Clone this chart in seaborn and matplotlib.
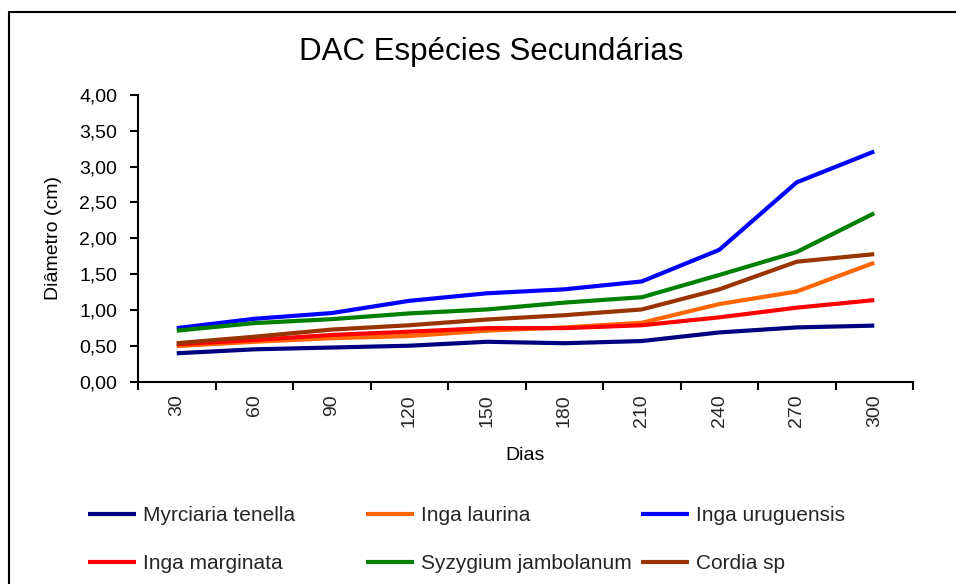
import matplotlib
matplotlib.use("Agg")
import matplotlib.pyplot as plt
import pandas as pd
import seaborn as sns
from matplotlib.lines import Line2D
from matplotlib.ticker import FuncFormatter, FixedLocator

dias = [30, 60, 90, 120, 150, 180, 210, 240, 270, 300]

myrciaria_tenella = [0.40, 0.455, 0.48, 0.505, 0.56, 0.54, 0.57, 0.69, 0.76, 0.785]
inga_laurina = [0.50, 0.56, 0.61, 0.64, 0.715, 0.76, 0.825, 1.085, 1.26, 1.66]
inga_uruguensis = [0.75, 0.88, 0.96, 1.13, 1.235, 1.29, 1.40, 1.84, 2.78, 3.21]
inga_marginata = [0.525, 0.585, 0.655, 0.70, 0.75, 0.75, 0.79, 0.90, 1.035, 1.14]
syzygium_jambolanum = [0.715, 0.82, 0.875, 0.955, 1.01, 1.105, 1.18, 1.49, 1.81, 2.35]
cordia_sp = [0.54, 0.63, 0.73, 0.79, 0.87, 0.93, 1.01, 1.29, 1.675, 1.78]

especies = ["Myrciaria tenella", "Inga laurina", "Inga uruguensis",
            "Inga marginata", "Syzygium jambolanum", "Cordia sp"]
series = [myrciaria_tenella, inga_laurina, inga_uruguensis,
          inga_marginata, syzygium_jambolanum, cordia_sp]
cores = ["#000080", "#FF6600", "#0000FF", "#FF0000", "#008000", "#993300"]

df = pd.concat([pd.DataFrame({"dias": dias, "diametro": vals, "especie": nome})
                for nome, vals in zip(especies, series)])

sns.set_theme(style="white")
plt.rcParams["font.family"] = ["Liberation Sans", "DejaVu Sans"]

fig = plt.figure(figsize=(9.56, 5.84), dpi=100)
ax = fig.add_axes([138 / 956, 1 - 382 / 584, (913 - 138) / 956, (382 - 94.7) / 584])

sns.lineplot(data=df, x="dias", y="diametro", hue="especie", hue_order=especies,
             palette=dict(zip(especies, cores)), linewidth=3, ax=ax)
for ln in ax.get_lines():
    ln.set_solid_capstyle("butt")

handles, labels = ax.get_legend_handles_labels()
ax.get_legend().remove()
for h in handles:
    h.set_solid_capstyle("butt")

ax.set_xlim(15, 315)
ax.set_ylim(0, 4)
ax.set_yticks([i * 0.5 for i in range(9)])
ax.yaxis.set_major_formatter(FuncFormatter(lambda v, p: f"{v:.2f}".replace(".", ",")))

ax.xaxis.set_major_locator(FixedLocator([15 + 30 * i for i in range(11)]))
ax.xaxis.set_major_formatter(FuncFormatter(lambda v, p: ""))
ax.xaxis.set_minor_locator(FixedLocator(dias))
ax.set_xticklabels([str(d) for d in dias], minor=True, rotation=90)
ax.tick_params(axis="x", which="minor", bottom=True, length=0, pad=9, labelsize=14)
ax.tick_params(axis="x", which="major", bottom=True, direction="out", length=6, width=1.5, color="black")
ax.tick_params(axis="y", left=True, direction="out", length=6, width=1.5, color="black",
               labelsize=14, pad=9)
ax.tick_params(axis="both", labelcolor="black")

for s in ["top", "right"]:
    ax.spines[s].set_visible(False)
for s in ["left", "bottom"]:
    ax.spines[s].set_color("black")
    ax.spines[s].set_linewidth(1.5)

ax.set_xlabel("Dias", fontsize=14, color="black", labelpad=14)
ax.set_ylabel("Diâmetro (cm)", fontsize=14, color="black", labelpad=12)
ax.grid(False)

fig.text(491 / 956, 1 - 52 / 584, "DAC Espécies Secundárias", fontsize=22.5,
         ha="center", va="center", color="black")

# legenda em 3 colunas
col_x = [88, 366, 641]
for k in range(3):
    fig.legend([handles[k], handles[k + 3]], [labels[k], labels[k + 3]],
               loc="center left", bbox_to_anchor=(col_x[k] / 956, 1 - 539.5 / 584),
               frameon=False, fontsize=15, handlelength=2.3, handletextpad=0.33,
               labelspacing=1.38, borderpad=0, borderaxespad=0)

# moldura
fig.add_artist(Line2D([9 / 956, 9 / 956], [0, 1 - 12 / 584], color="black", linewidth=1.5,
                      transform=fig.transFigure))
fig.add_artist(Line2D([9 / 956, 1], [1 - 12 / 584, 1 - 12 / 584], color="black", linewidth=1.5,
                      transform=fig.transFigure))

fig.savefig("out.png", dpi=100)
